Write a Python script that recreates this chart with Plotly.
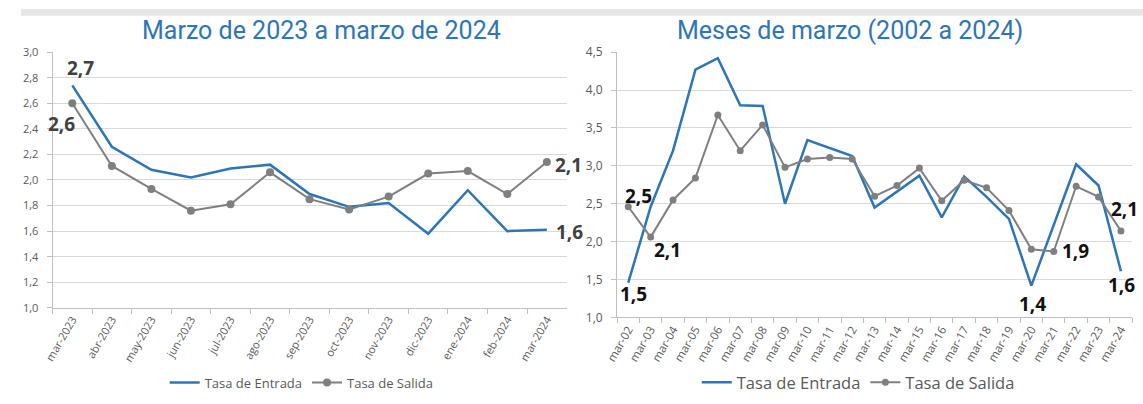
import plotly.graph_objects as go

# monthly series, March 2023 - March 2024
months = ['mar-2023', 'abr-2023', 'may-2023', 'jun-2023', 'jul-2023', 'ago-2023',
          'sep-2023', 'oct-2023', 'nov-2023', 'dic-2023', 'ene-2024', 'feb-2024', 'mar-2024']
entrada_m = [2.74, 2.26, 2.08, 2.02, 2.09, 2.12, 1.89, 1.79, 1.82, 1.58, 1.92, 1.60, 1.61]
salida_m = [2.60, 2.11, 1.93, 1.76, 1.81, 2.06, 1.85, 1.77, 1.87, 2.05, 2.07, 1.89, 2.14]

# March of each year, 2002 - 2024
marches = ['mar-02', 'mar-03', 'mar-04', 'mar-05', 'mar-06', 'mar-07', 'mar-08', 'mar-09',
           'mar-10', 'mar-11', 'mar-12', 'mar-13', 'mar-14', 'mar-15', 'mar-16', 'mar-17',
           'mar-18', 'mar-19', 'mar-20', 'mar-21', 'mar-22', 'mar-23', 'mar-24']
entrada_y = [1.46, 2.46, 3.20, 4.27, 4.42, 3.80, 3.79, 2.50, 3.34, 3.23, 3.13, 2.45,
             2.66, 2.87, 2.32, 2.86, 2.59, 2.30, 1.42, 2.21, 3.02, 2.74, 1.61]
salida_y = [2.46, 2.06, 2.55, 2.84, 3.67, 3.20, 3.54, 2.98, 3.09, 3.11, 3.09, 2.60,
            2.74, 2.97, 2.54, 2.81, 2.71, 2.41, 1.90, 1.87, 2.73, 2.59, 2.14]

BLUE = '#2e75b6'
GRAY = '#7f7f7f'
AXIS = '#bfbfbf'
GRID = '#d9d9d9'
TXT = '#595959'
W, H = 1143, 404

fig = go.Figure()

fig.add_trace(go.Scatter(x=months, y=entrada_m, name='Tasa de Entrada', mode='lines',
                         line=dict(color=BLUE, width=2.5), xaxis='x', yaxis='y',
                         legend='legend'))
fig.add_trace(go.Scatter(x=months, y=salida_m, name='Tasa de Salida', mode='lines+markers',
                         line=dict(color=GRAY, width=2), marker=dict(color=GRAY, size=8),
                         xaxis='x', yaxis='y', legend='legend'))
fig.add_trace(go.Scatter(x=marches, y=entrada_y, name='Tasa de Entrada', mode='lines',
                         line=dict(color=BLUE, width=2.5), xaxis='x2', yaxis='y2',
                         legend='legend2'))
fig.add_trace(go.Scatter(x=marches, y=salida_y, name='Tasa de Salida', mode='lines+markers',
                         line=dict(color=GRAY, width=2), marker=dict(color=GRAY, size=7),
                         xaxis='x2', yaxis='y2', legend='legend2'))


def fmt(v):
    return f'{v:.1f}'.replace('.', ',')


# data labels: (axis, category list, values, index, xshift, yshift, anchor, colour)
labels = [
    ('', months, entrada_m, 0, 8, 17, 'center', '#404040'),
    ('', months, salida_m, 0, -11, -21, 'center', '#404040'),
    ('', months, salida_m, -1, 6, -3, 'left', '#404040'),
    ('', months, entrada_m, -1, 7, -2, 'left', '#404040'),
    ('2', marches, salida_y, 0, 10, 11, 'center', '#111111'),
    ('2', marches, entrada_y, 0, 5, -11, 'center', '#111111'),
    ('2', marches, salida_y, 1, 17, -13, 'center', '#111111'),
    ('2', marches, entrada_y, 18, 1, -18, 'center', '#111111'),
    ('2', marches, salida_y, 19, 22, 0, 'center', '#111111'),
    ('2', marches, salida_y, -1, 4, 22, 'center', '#111111'),
    ('2', marches, entrada_y, -1, 1, -14, 'center', '#111111'),
]
for ax, cats, vals, i, dx, dy, anchor, col in labels:
    fig.add_annotation(x=cats[i], y=vals[i], xref='x' + ax, yref='y' + ax,
                       text=fmt(vals[i]), showarrow=False, xanchor=anchor,
                       yanchor='middle', xshift=dx, yshift=dy,
                       font=dict(family='Open Sans', size=19, color=col, weight='bold'))

# chart titles
for cx, title in [(312, 'Marzo de 2023 a marzo de 2024'), (847, 'Meses de marzo (2002 a 2024)')]:
    fig.add_annotation(x=cx / W, y=1 - 22 / H, xref='paper', yref='paper',
                       xanchor='center', yanchor='middle', text=title, showarrow=False,
                       font=dict(family='Roboto', size=25, color=BLUE))

# thin grey band along the top
fig.add_shape(type='rect', xref='paper', yref='paper', x0=8 / W, x1=1,
              y0=1 - 7 / H, y1=1, fillcolor='#e6e6e6', line_width=0, layer='below')

xcommon = dict(type='category', showline=True, linecolor=AXIS, linewidth=1,
               ticks='outside', tickson='boundaries', ticklen=5, tickcolor=AXIS,
               showgrid=False, tickangle=-60)
ycommon = dict(showline=True, linecolor=AXIS, linewidth=1, ticks='outside', ticklen=5,
               tickcolor=AXIS, showgrid=True, gridcolor=GRID, gridwidth=1,
               tickformat='.1f', zeroline=False, ticklabelstandoff=6)

fig.update_layout(
    width=W, height=H,
    margin=dict(l=0, r=0, t=0, b=0),
    paper_bgcolor='white', plot_bgcolor='white',
    separators=',.',
    showlegend=True,
    xaxis=dict(xcommon, domain=[40 / W, 560 / W], anchor='y',
               range=[-0.5, len(months) - 0.5],
               tickfont=dict(family='Open Sans', size=11, color=TXT)),
    yaxis=dict(ycommon, domain=[1 - 312 / H, 1 - 45 / H], range=[1.0, 3.0],
               dtick=0.2, anchor='x',
               tickfont=dict(family='Open Sans', size=11, color=TXT)),
    xaxis2=dict(xcommon, domain=[611 / W, 1132 / W], anchor='y2',
                range=[-0.5, len(marches) - 0.5],
                tickfont=dict(family='Open Sans', size=11.5, color=TXT)),
    yaxis2=dict(ycommon, domain=[1 - 322 / H, 1 - 45 / H], range=[1.0, 4.5],
                dtick=0.5, anchor='x2',
                tickfont=dict(family='Open Sans', size=12, color=TXT)),
    legend=dict(orientation='h', x=292 / W, y=1 - 390 / H, xanchor='center',
                yanchor='middle', font=dict(family='Open Sans', size=13, color=TXT),
                itemwidth=30, bgcolor='rgba(0,0,0,0)'),
    legend2=dict(orientation='h', x=855 / W, y=1 - 390 / H, xanchor='center',
                 yanchor='middle', font=dict(family='Open Sans', size=16.5, color=TXT),
                 itemwidth=30, bgcolor='rgba(0,0,0,0)'),
)

# drop the page's default body margin so the figure sits at the window's corner
fig.write_html('out.html', config={'displayModeBar': False},
               post_script="document.body.style.margin = '0';")
